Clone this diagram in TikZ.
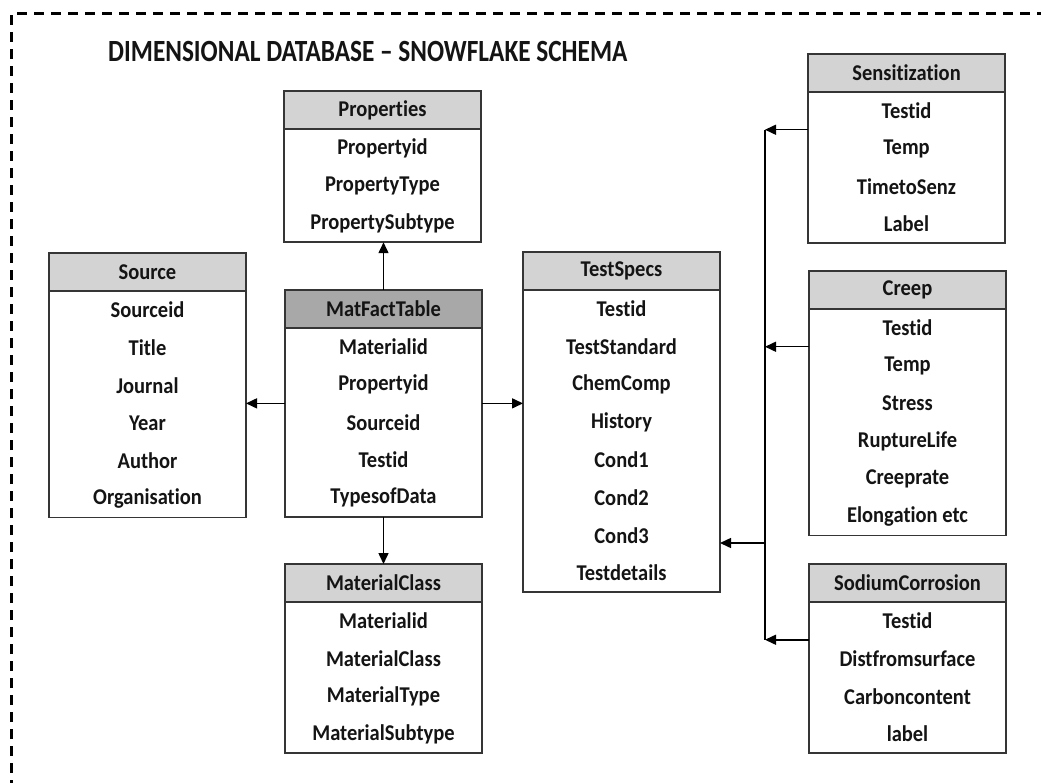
\documentclass[tikz,border=0pt]{standalone}
\usepackage{fontspec}
\usepackage{graphicx}
\setmainfont{Carlito}[Ligatures=NoCommon]
\usetikzlibrary{calc,arrows.meta}
\definecolor{edge}{HTML}{353535}
\definecolor{ink}{HTML}{141414}
\definecolor{headlight}{HTML}{D3D3D3}
\definecolor{headdark}{HTML}{A8A8A8}
% slightly taller lettering
\newcommand\tallfield[1]{\scalebox{1}[1.1]{#1}}
\newcommand\talltitle[1]{\scalebox{1}[1.22]{#1}}
\tikzset{
  tablebox/.style={draw=edge, line width=1.8pt, fill=white, minimum width=197pt,
    inner sep=0pt, outer sep=0pt},
  headbox/.style={draw=edge, line width=1.8pt, minimum width=197pt, minimum height=38pt,
    inner sep=0pt, outer sep=0pt, text=ink, font=\bfseries\fontsize{20.5}{22}\selectfont},
  fieldtext/.style={inner sep=0pt, text=ink, font=\bfseries\fontsize{20.5}{22}\selectfont},
  conn/.style={draw=black, line width=1.5pt, -{Triangle[length=11pt,width=10pt]}},
  busline/.style={draw=black, line width=1.5pt},
  frame/.style={draw=black, line width=3pt, dash pattern=on 10pt off 7pt},
  titletext/.style={inner sep=0pt, anchor=west, text=ink,
    font=\bfseries\fontsize{25.3}{28}\selectfont}
}
% table: name, left x, top y, header fill, title, number of fields, fields
\newcommand\dbtable[7]{%
  \node[tablebox, minimum height={38pt+#6*37.75pt}, anchor=north west] (#1) at (#2,#3) {};
  \node[headbox, fill=#4, anchor=north] (#1-h) at (#1.north) {\tallfield{#5}};
  \foreach \f [count=\i] in {#7}{
    \node[fieldtext] (#1-\i) at ($(#1-h.south)+(0,{(\i-0.5)*37.75})$) {\tallfield{\f}};
  }%
}
\begin{document}
\begin{tikzpicture}[x=1pt, y=-1pt]
\useasboundingbox (0,0) rectangle (1041,783);

% dashed outline
\coordinate (fr-bl) at (11,790);
\coordinate (fr-tl) at (11,14);
\coordinate (fr-tr) at (1050,14);
\draw[frame] (fr-bl) -- (fr-tl) -- (fr-tr);

\node[titletext] (title) at (108,51) {\talltitle{DIMENSIONAL DATABASE – SNOWFLAKE SCHEMA}};

\dbtable{props}{284}{91}{headlight}{Properties}{3}{Propertyid,PropertyType,PropertySubtype}
\dbtable{src}{49}{253}{headlight}{Source}{6}{Sourceid,Title,Journal,Year,Author,Organisation}
\dbtable{mf}{285}{290}{headdark}{MatFactTable}{5}{Materialid,Propertyid,Sourceid,Testid,TypesofData}
\dbtable{mc}{285}{564}{headlight}{MaterialClass}{4}{Materialid,MaterialClass,MaterialType,MaterialSubtype}
\dbtable{ts}{523}{252}{headlight}{TestSpecs}{8}{Testid,TestStandard,ChemComp,History,Cond1,Cond2,Cond3,Testdetails}
\dbtable{sens}{808}{54}{headlight}{Sensitization}{4}{Testid,Temp,TimetoSenz,Label}
\dbtable{creep}{809}{271}{headlight}{Creep}{6}{Testid,Temp,Stress,RuptureLife,Creeprate,Elongation etc}
\dbtable{sod}{809}{564}{headlight}{SodiumCorrosion}{4}{Testid,Distfromsurface,Carboncontent,label}

% fact table to its dimensions
\draw[conn] (mf.north) -- (mf.north |- props.south);
\draw[conn] (mf.west) -- (mf.west -| src.east);
\draw[conn] (mf.east) -- (mf.east -| ts.west);
\draw[conn] (mf.south) -- (mf.south |- mc.north);

% test tables joined on a shared bus into TestSpecs
\coordinate (bus) at (765,0);
\coordinate (sens-a) at ($(sens.north west)+(0,38+37.75)$);
\coordinate (creep-a) at ($(creep.north west)+(0,38+37.75)$);
\coordinate (sod-a) at ($(sod.north west)+(0,38+37.75)$);
\coordinate (bus-ts) at (765,543);
\draw[busline] (sens-a -| bus) -- (sod-a -| bus);
\draw[conn] (sens-a) -- (sens-a -| bus);
\draw[conn] (creep-a) -- (creep-a -| bus);
\draw[conn] (sod-a) -- (sod-a -| bus);
\draw[conn] (bus-ts) -- (bus-ts -| ts.east);
\end{tikzpicture}
\end{document}
